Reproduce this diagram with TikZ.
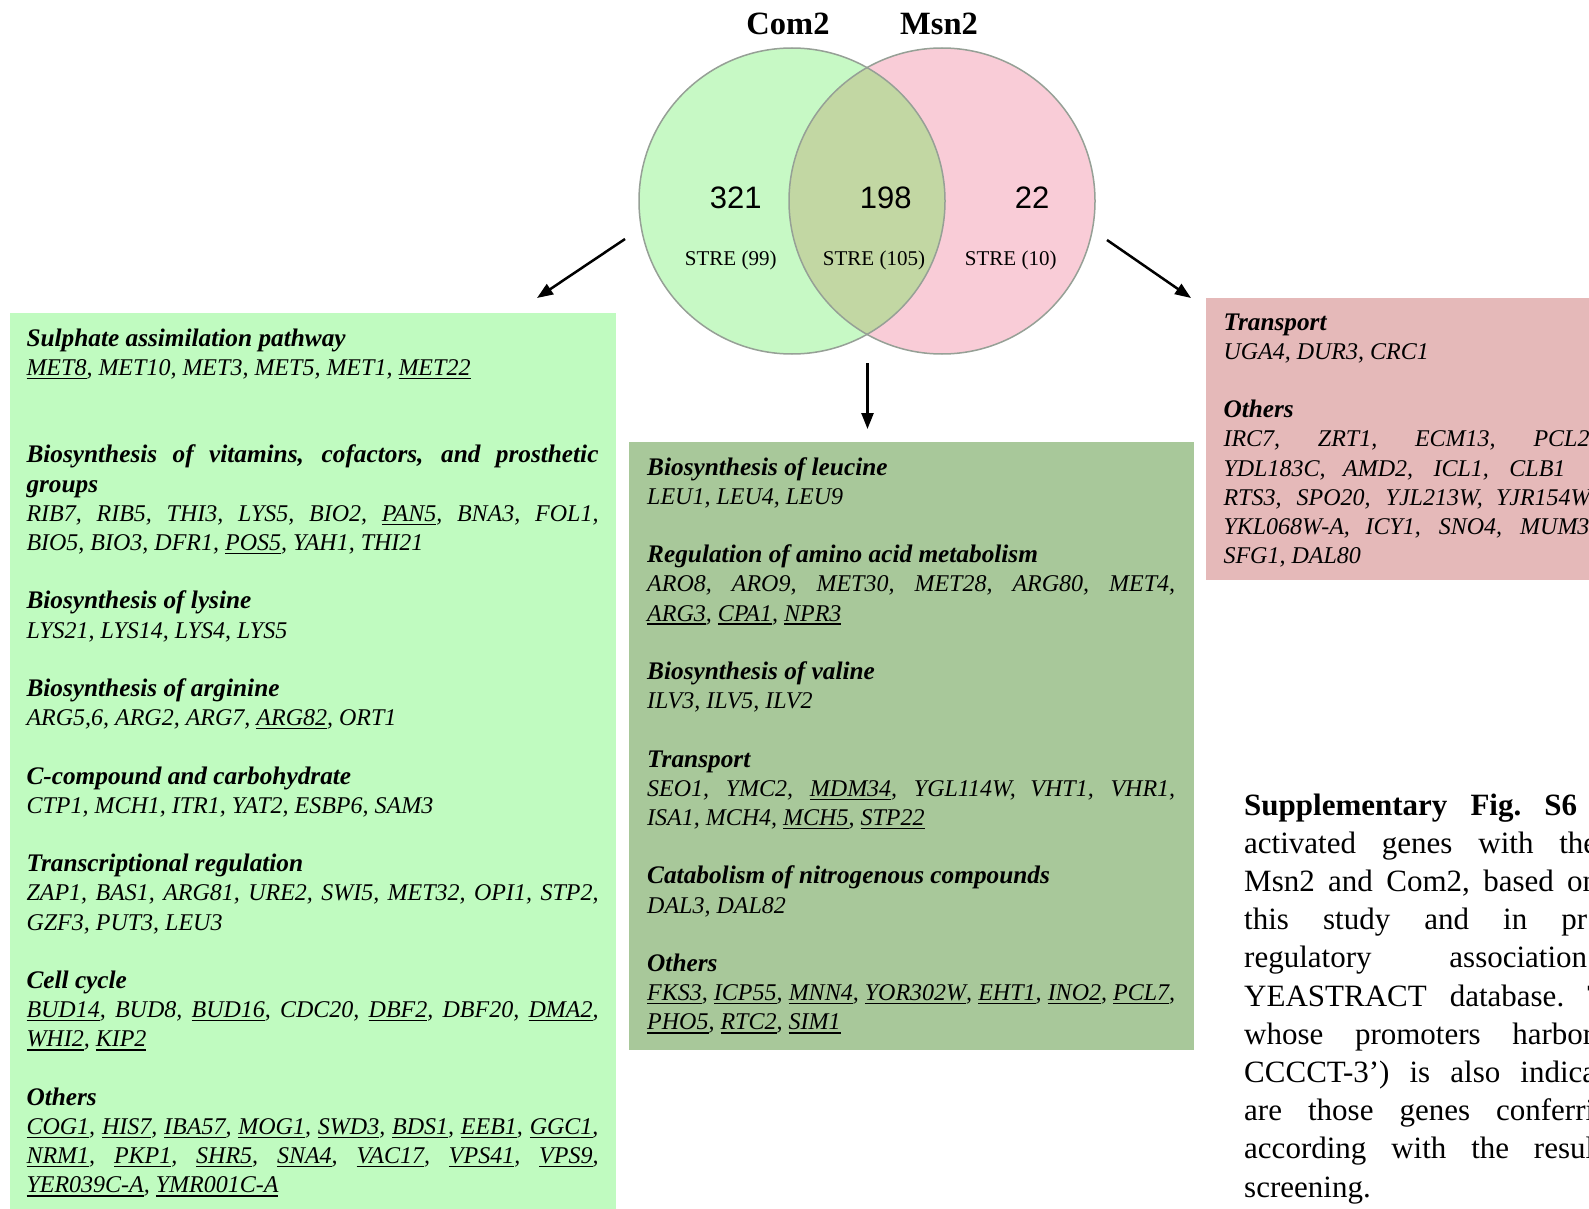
\documentclass[tikz,border=0pt]{standalone}
\usepackage{fontspec}
\setmainfont{Liberation Serif}
\newfontfamily\arialf{Liberation Sans}
\usetikzlibrary{arrows.meta}
\definecolor{vgreen}{RGB}{199,249,197}
\definecolor{vpink}{RGB}{249,204,215}
\definecolor{vlap}{RGB}{194,215,163}
\definecolor{vborder}{RGB}{150,160,150}
\definecolor{boxg}{RGB}{192,251,192}
\definecolor{boxm}{RGB}{168,200,154}
\definecolor{boxp}{RGB}{229,185,185}
\newcommand\ulg[1]{\setbox0\hbox{#1}\rlap{\vrule height -2.4pt depth 3.8pt width \wd0}\box0}
\newcommand\hdg[1]{{\fontsize{25.3}{29.2}\selectfont\bfseries #1}}
\newcommand\wline[2]{\noindent\makebox[#1][s]{#2}\par}
\newcommand\jline[1]{\noindent\makebox[\linewidth][s]{#1}\par}
\newcommand\rline[1]{\noindent #1\par}
\newcommand\bline{\noindent\mbox{}\par}
\tikzset{
  boxtext/.style={anchor=base west, inner sep=0pt},
  arr/.style={line width=2.5pt, -{Triangle[length=16pt,width=12pt]}},
  vtitle/.style={anchor=base, inner sep=0pt, font={\fontsize{32.5}{36}\selectfont\bfseries}},
  vnum/.style={anchor=base, inner sep=0pt, font={\arialf\fontsize{31}{34}\selectfont}},
  vstre/.style={anchor=base, inner sep=0pt, font={\fontsize{21}{24}\selectfont}},
}
\begin{document}
\begin{tikzpicture}[x=1pt,y=-1pt]
\useasboundingbox (0,0) rectangle (1589,1209);
\fill[white] (0,0) rectangle (1589,1209);

% Venn diagram
\node[circle, minimum size=306pt, inner sep=0pt, fill=vgreen] (com) at (792,201) {};
\node[circle, minimum size=306pt, inner sep=0pt, fill=vpink] (msn) at (942,201) {};
\begin{scope}
  \clip (792,201) circle[radius=153pt];
  \fill[vlap] (942,201) circle[radius=153pt];
\end{scope}
\draw[vborder, line width=1.5pt] (com.center) circle[radius=153pt];
\draw[vborder, line width=1.5pt] (msn.center) circle[radius=153pt];

\node[vtitle] (tcom) at (788,35) {Com2};
\node[vtitle] (tmsn) at (939,35) {Msn2};
\node[vnum] (n1) at (735.7,208.3) {321};
\node[vnum] (n2) at (885.8,208.3) {198};
\node[vnum] (n3) at (1032,208.3) {22};
\node[vstre] (s1) at (730.7,265) {STRE (99)};
\node[vstre] (s2) at (874,265) {STRE (105)};
\node[vstre] (s3) at (1010.7,265) {STRE (10)};

% arrows
\coordinate (la) at (625,239);
\coordinate (lb) at (537,298);
\coordinate (ma) at (867.5,363);
\coordinate (mb) at (867.5,429);
\coordinate (ra) at (1107,240);
\coordinate (rb) at (1191,298);
\draw[arr] (la) -- (lb);
\draw[arr] (ma) -- (mb);
\draw[arr] (ra) -- (rb);

% boxes
\fill[boxg] (10,313) rectangle (616,1209);
\fill[boxm] (629.3,441.8) rectangle (1193.8,1050);
\fill[boxp] (1206,298) rectangle (1589,580);

% left box text
\node[boxtext] (ltext) at (26.3,346) {\begin{minipage}[t]{572pt}\fontsize{24}{29.2}\selectfont\itshape
\rline{\hdg{Sulphate assimilation pathway}}
\rline{\ulg{MET8}, MET10, MET3, MET5, MET1, \ulg{MET22}}
\bline
\bline
\jline{\hdg{Biosynthesis of vitamins, cofactors, and prosthetic}}
\rline{\hdg{groups}}
\jline{RIB7, RIB5, THI3, LYS5, BIO2, \ulg{PAN5}, BNA3, FOL1,}
\rline{BIO5, BIO3, DFR1, \ulg{POS5}, YAH1, THI21}
\bline
\rline{\hdg{Biosynthesis of lysine}}
\rline{LYS21, LYS14, LYS4, LYS5}
\bline
\rline{\hdg{Biosynthesis of arginine}}
\rline{ARG5,6, ARG2, ARG7, \ulg{ARG82}, ORT1}
\bline
\rline{\hdg{C-compound and carbohydrate}}
\rline{CTP1, MCH1, ITR1, YAT2, ESBP6, SAM3}
\bline
\rline{\hdg{Transcriptional regulation}}
\jline{ZAP1, BAS1, ARG81, URE2, SWI5, MET32, OPI1, STP2,}
\rline{GZF3, PUT3, LEU3}
\bline
\rline{\hdg{Cell cycle}}
\jline{\ulg{BUD14}, BUD8, \ulg{BUD16}, CDC20, \ulg{DBF2}, DBF20, \ulg{DMA2},}
\rline{\ulg{WHI2}, \ulg{KIP2}}
\bline
\rline{\hdg{Others}}
\jline{\ulg{COG1}, \ulg{HIS7}, \ulg{IBA57}, \ulg{MOG1}, \ulg{SWD3}, \ulg{BDS1}, \ulg{EEB1}, \ulg{GGC1},}
\jline{\ulg{NRM1}, \ulg{PKP1}, \ulg{SHR5}, \ulg{SNA4}, \ulg{VAC17}, \ulg{VPS41}, \ulg{VPS9},}
\rline{\ulg{YER039C-A}, \ulg{YMR001C-A}}
\end{minipage}};

% middle box text
\node[boxtext] (mtext) at (647,475) {\begin{minipage}[t]{528pt}\fontsize{24}{29.2}\selectfont\itshape
\rline{\hdg{Biosynthesis of leucine}}
\rline{LEU1, LEU4, LEU9}
\bline
\rline{\hdg{Regulation of amino acid metabolism}}
\jline{ARO8, ARO9, MET30, MET28, ARG80, MET4,}
\rline{\ulg{ARG3}, \ulg{CPA1}, \ulg{NPR3}}
\bline
\rline{\hdg{Biosynthesis of valine}}
\rline{ILV3, ILV5, ILV2}
\bline
\rline{\hdg{Transport}}
\jline{SEO1, YMC2, \ulg{MDM34}, YGL114W, VHT1, VHR1,}
\rline{ISA1, MCH4, \ulg{MCH5}, \ulg{STP22}}
\bline
\rline{\hdg{Catabolism of nitrogenous compounds}}
\rline{DAL3, DAL82}
\bline
\rline{\hdg{Others}}
\jline{\ulg{FKS3}, \ulg{ICP55}, \ulg{MNN4}, \ulg{YOR302W}, \ulg{EHT1}, \ulg{INO2}, \ulg{PCL7},}
\rline{\ulg{PHO5}, \ulg{RTC2}, \ulg{SIM1}}
\end{minipage}};

% right box text
\node[boxtext] (rtext) at (1223.3,330) {\begin{minipage}[t]{400pt}\fontsize{24}{29.2}\selectfont\itshape
\rline{\hdg{Transport}}
\rline{UGA4, DUR3, CRC1}
\bline
\rline{\hdg{Others}}
\wline{366pt}{IRC7, ZRT1, ECM13, PCL2}
\wline{342pt}{YDL183C, AMD2, ICL1, CLB1}
\wline{371pt}{RTS3, SPO20, YJL213W, YJR154W,}
\wline{366pt}{YKL068W-A, ICY1, SNO4, MUM3}
\rline{SFG1, DAL80}
\end{minipage}};

% caption
\node[boxtext] (cap) at (1244,815) {\begin{minipage}[t]{400pt}\fontsize{31}{38.2}\selectfont\frenchspacing
\wline{333pt}{\bfseries Supplementary Fig. S6}
\wline{353pt}{activated genes with the}
\wline{354pt}{Msn2 and Com2, based on}
\wline{343pt}{this study and in pr}
\wline{343pt}{regulatory association}
\wline{362pt}{YEASTRACT database. T}
\wline{349pt}{whose promoters harbor}
\wline{352pt}{CCCCT-3’) is also indica}
\wline{350pt}{are those genes conferri}
\wline{350pt}{according with the resul}
\rline{screening.}
\end{minipage}};
\end{tikzpicture}
\end{document}
